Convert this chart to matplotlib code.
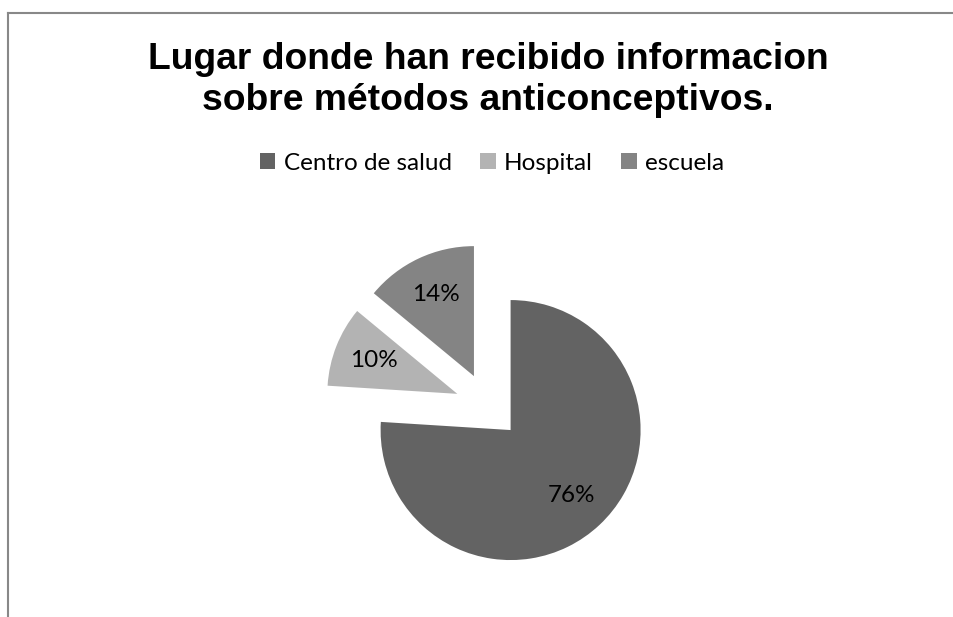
import matplotlib.pyplot as plt
from matplotlib.patches import Patch
from matplotlib.lines import Line2D

# data
categories = ["Centro de salud", "Hospital", "escuela"]
values = [76, 10, 14]
colors = ["#636363", "#b3b3b3", "#848484"]

W, H = 954, 617
fig = plt.figure(figsize=(W / 100, H / 100), dpi=100)
ax = fig.add_axes([0, 0, 1, 1])

# pie drawn in pixel units
wedges, texts, autotexts = ax.pie(
    values,
    colors=colors,
    startangle=90,
    counterclock=False,
    center=(488, H - 406),
    radius=130,
    explode=[33, 33, 33],
    autopct="%d%%",
    pctdistance=0.69,
    textprops=dict(family="Lato", fontsize=17.5, color="black"),
    wedgeprops=dict(linewidth=0),
)
ax.set_xlim(0, W)
ax.set_ylim(0, H)
ax.set_aspect("equal")
ax.axis("off")

# title
fig.text(488 / W, 1 - 80 / H, "Lugar donde han recibido informacion\nsobre métodos anticonceptivos.",
         ha="center", va="center", fontsize=26.8, fontweight="bold",
         family="Liberation Sans", linespacing=1.2)

# legend
handles = [Patch(facecolor=c, edgecolor="none") for c in colors]
fig.legend(handles, categories, loc="center", bbox_to_anchor=(492 / W, 1 - 163 / H),
           ncol=3, frameon=False, prop=dict(family="Lato", size=17.5),
           handlelength=0.65, handleheight=0.65, handletextpad=0.35, columnspacing=1.15)

# chart border (top and left edges visible)
fig.add_artist(Line2D([8 / W, 1], [1 - 13 / H, 1 - 13 / H], color="#888888", lw=1.5,
                      transform=fig.transFigure))
fig.add_artist(Line2D([8 / W, 8 / W], [0, 1 - 13 / H], color="#888888", lw=1.5,
                      transform=fig.transFigure))

fig.savefig("out.png", dpi=100)
